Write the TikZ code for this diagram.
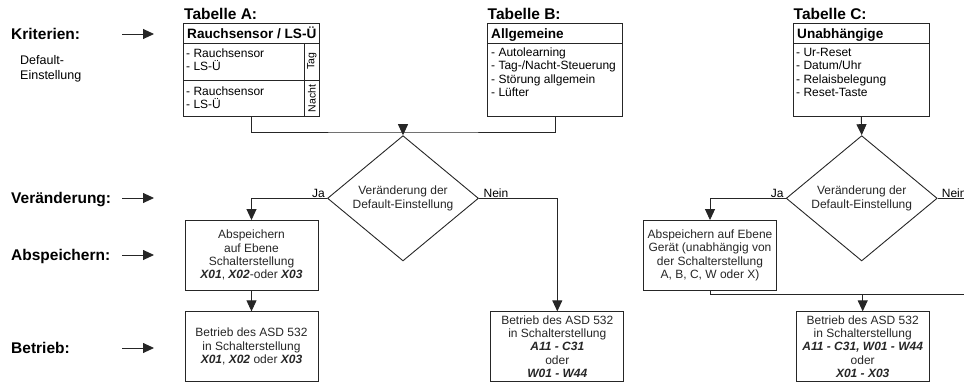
\documentclass[tikz,border=0pt]{standalone}
\usepackage{fontspec}
\setmainfont{Liberation Sans}
\usetikzlibrary{shapes.geometric,arrows.meta}

\begin{document}
\begin{tikzpicture}[x=1pt, y=-1pt,
	every node/.style={font=\fontsize{12}{13.4}\selectfont, inner sep=0pt},
	linie/.style={line width=0.9pt, black!85},
	pfeil/.style={linie, -{Triangle[length=11pt,width=10pt]}},
	box/.style={draw, linie, align=center, minimum width=133, minimum height=69.6},
	tabbox/.style={draw, linie, minimum width=136, minimum height=93},
	raute/.style={diamond, draw, linie, align=center, minimum width=151, minimum height=87},
	titel/.style={font=\fontsize{15.5}{18}\selectfont\bfseries, anchor=west, text height=11.1pt, text depth=0pt},
	kopf/.style={font=\fontsize{13.6}{16}\selectfont\bfseries, anchor=west, text height=9.7pt, text depth=0pt},
	liste/.style={align=left, anchor=west},
	seite/.style={font=\fontsize{10.5}{12}\selectfont, rotate=90},
	janein/.style={text height=8.6pt, text depth=0pt}]
	\clip (0,0) rectangle (964,383);
	
	\node[titel] (krit) at (11,34) {Kriterien:};
	\node[font=\fontsize{12.5}{15}\selectfont, align=left, anchor=west] (default) at (20,69) {Default-\\Einstellung};
	\node[titel] (veraend) at (11,198) {Veränderung:};
	\node[titel] (absp) at (11,255) {Abspeichern:};
	\node[titel] (betr) at (11,348) {Betrieb:};
	\coordinate (pfA) at (122,0);
	\coordinate (pfB) at (154,0);
	\foreach \n in {krit,veraend,absp,betr}
		\draw[pfeil] (\n.east -| pfA) -- (\n.east -| pfB);
	
	% Tabelle A
	\node[titel] (titA) at (184,14.3) {Tabelle A:};
	\node[tabbox] (tabA) at (251.3,69.5) {};
	\draw[linie] (183.3,43.3) -- (319.3,43.3);
	\draw[linie] (183.3,80.7) -- (319.3,80.7);
	\draw[linie] (304.3,43.3) -- (304.3,116);
	\node[kopf] (kopfA) at (187,34) {Rauchsensor / LS-Ü};
	\node[liste] (tagA) at (186,59.8) {- Rauchsensor\\- LS-Ü};
	\node[liste] (nachtA) at (186,97.5) {- Rauchsensor\\- LS-Ü};
	\node[seite] (tag) at (311.8,61.5) {Tag};
	\node[seite] (nacht) at (311.8,98.5) {Nacht};
	
	% Tabelle B
	\node[titel] (titB) at (487.5,14.3) {Tabelle B:};
	\node[tabbox, minimum width=135.4] (tabB) at (555,69.5) {};
	\draw[linie] (487.3,43.3) -- (622.7,43.3);
	\node[kopf] (kopfB) at (491,34) {Allgemeine};
	\node[liste] (listeB) at (491,72.3) {- Autolearning\\- Tag-/Nacht-Steuerung\\- Störung allgemein\\- Lüfter};
	
	% Tabelle C
	\node[titel] (titC) at (793.5,14.3) {Tabelle C:};
	\node[tabbox] (tabC) at (861.3,69.5) {};
	\draw[linie] (793.3,43.3) -- (929.3,43.3);
	\node[kopf] (kopfC) at (797,34) {Unabhängige};
	\node[liste] (listeC) at (796,72.3) {- Ur-Reset\\- Datum/Uhr\\- Relaisbelegung\\- Reset-Taste};
	
	% Ablauf A/B
	\coordinate (sammelAB) at (403,132);
	\node[raute] (rauteAB) at (403,198.3) {Veränderung der\\Default-Einstellung};
	\draw[linie] (tabA.south) |- (sammelAB) -| (tabB.south);
	\draw[pfeil] (sammelAB) -- (rauteAB.north);
	\node[janein, anchor=south east] (jaAB) at ([xshift=-2pt,yshift=1pt]rauteAB.west) {Ja};
	\node[janein, anchor=south west] (neinAB) at ([xshift=4.5pt,yshift=1pt]rauteAB.east) {Nein};
	
	\node[box] (spA) at (251.5,255.3) {Abspeichern\\auf Ebene\\Schalterstellung\\\textbf{\textit{X01}}, \textbf{\textit{X02}}-oder \textbf{\textit{X03}}};
	\node[box] (betrA) at (251.5,346.6) {Betrieb des ASD 532\\in Schalterstellung\\\textbf{\textit{X01}}, \textbf{\textit{X02}} oder \textbf{\textit{X03}}};
	\node[box] (betrB) at (557.3,346.6) {Betrieb des ASD 532\\in Schalterstellung\\\textbf{\textit{A11 - C31}}\\oder\\\textbf{\textit{W01 - W44}}};
	\draw[pfeil] (rauteAB.west) -| (spA.north);
	\draw[pfeil] (spA.south) -- (betrA.north);
	\draw[pfeil] (rauteAB.east) -| (betrB.north);
	
	% Ablauf C
	\node[raute] (rauteC) at (861.7,198.3) {Veränderung der\\Default-Einstellung};
	\draw[pfeil] (tabC.south) -- (rauteC.north);
	\node[janein, anchor=south east] (jaC) at ([xshift=-2pt,yshift=1pt]rauteC.west) {Ja};
	\node[janein, anchor=south west] (neinC) at ([xshift=4pt,yshift=1pt]rauteC.east) {Nein};
	
	\node[box] (spC) at (710,255.3) {Abspeichern auf Ebene\\Gerät (unabhängig von\\der Schalterstellung\\A, B, C, W oder X)};
	\node[box] (betrC) at (862.7,346.6) {Betrieb des ASD 532\\in Schalterstellung\\\textbf{\textit{A11 - C31, W01 - W44}}\\oder\\\textbf{\textit{X01 - X03}}};
	\coordinate (aussen) at (985,294.3);
	\draw[pfeil] (rauteC.west) -| (spC.north);
	\draw[linie] (rauteC.east) -| (aussen) -- (spC.south |- aussen) -- (spC.south);
	\draw[pfeil] (betrC.north |- aussen) -- (betrC.north);
\end{tikzpicture}
\end{document}
